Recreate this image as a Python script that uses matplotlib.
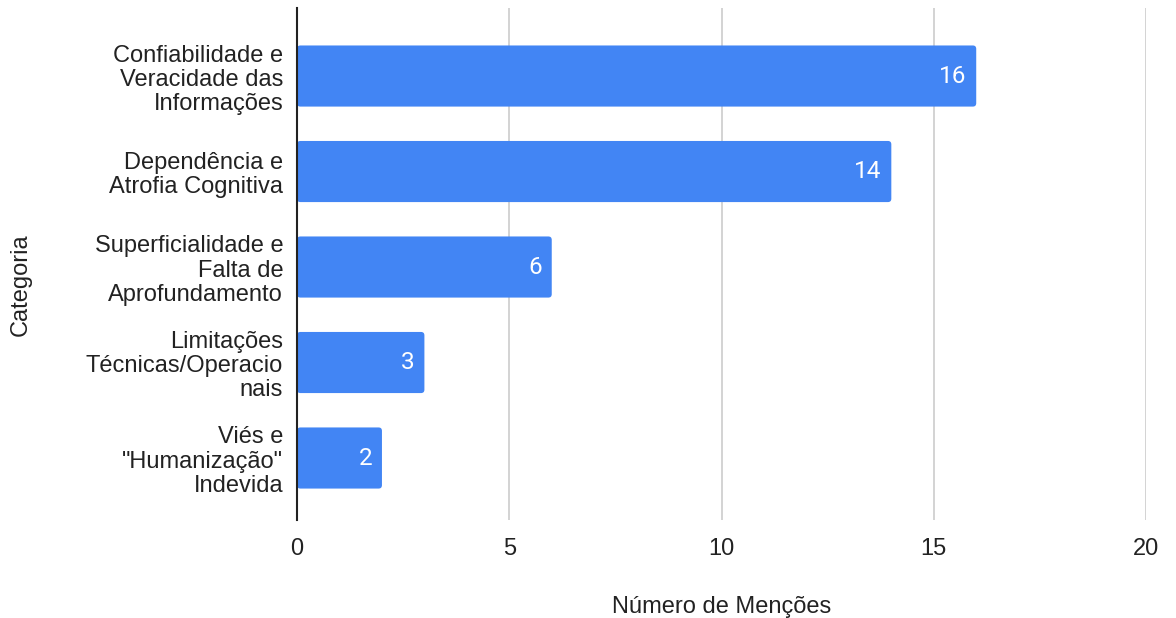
import matplotlib
matplotlib.use("Agg")
import matplotlib.pyplot as plt
from matplotlib.patches import FancyBboxPatch

categories = [
    "Confiabilidade e\nVeracidade das\nInformações",
    "Dependência e\nAtrofia Cognitiva",
    "Superficialidade e\nFalta de\nAprofundamento",
    "Limitações\nTécnicas/Operacio\nnais",
    "Viés e\n\"Humanização\"\nIndevida",
]
mentions = [16, 14, 6, 3, 2]
x_ticks = [0, 5, 10, 15, 20]

plt.rcParams['font.family'] = ['Liberation Sans', 'DejaVu Sans']
FS = 17

fig = plt.figure(figsize=(11.76, 6.18), dpi=100)
ax = fig.add_axes([0.2526, 0.1586, 0.7219, 0.8284])

pos = list(range(len(categories)))
bars = ax.barh(pos, mentions, height=0.64, color='#4285F4', zorder=3)

# swap the plain rectangles for slightly rounded ones
for b in bars:
    b.set_visible(False)
    rp = FancyBboxPatch((b.get_x(), b.get_y()), b.get_width(), b.get_height(),
                        boxstyle="round,pad=0,rounding_size=0.08",
                        mutation_aspect=0.444, color='#4285F4', zorder=3,
                        linewidth=0)
    ax.add_patch(rp)

for b, v in zip(bars, mentions):
    ax.annotate(str(v), (b.get_width(), b.get_y() + b.get_height() / 2),
                xytext=(-7, 0), textcoords='offset points',
                ha='right', va='center', color='white', fontsize=17.5,
                family=['Roboto', 'DejaVu Sans'])

ax.set_xlim(0, 20)
ax.set_ylim(4.649, -0.712)
ax.set_xticks(x_ticks)
ax.set_xticklabels([str(t) for t in x_ticks], fontsize=FS, color='#222222')
ax.set_yticks(pos)
ax.set_yticklabels(categories, fontsize=FS, color='#222222', linespacing=1.12)
ax.tick_params(axis='both', length=0)
ax.tick_params(axis='x', pad=13)
ax.tick_params(axis='y', pad=10)

ax.grid(axis='x', color='#cccccc', linewidth=1.2, zorder=0)
for s in ['top', 'right', 'bottom']:
    ax.spines[s].set_visible(False)
ax.spines['left'].set_color('#222222')
ax.spines['left'].set_linewidth(1.5)
ax.spines['left'].set_zorder(4)

ax.set_xlabel("Número de Menções", fontsize=FS, color='#222222', labelpad=26)
fig.text(0.018, 0.539, "Categoria", rotation=90, fontsize=FS, color='#222222',
         ha='center', va='center')

fig.savefig("out.png", dpi=100)
